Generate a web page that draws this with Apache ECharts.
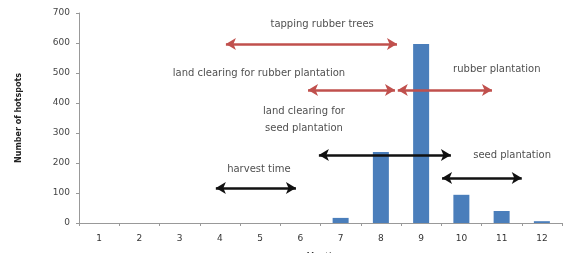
<!DOCTYPE html>
<html>
<head>
<meta charset="utf-8">
<script src="https://cdn.jsdelivr.net/npm/echarts@6/dist/echarts.min.js"></script>
<style>
  html, body { margin: 0; padding: 0; background: #fff; }
  #chart { width: 565px; height: 253px; }
</style>
</head>
<body>
<div id="chart"></div>
<script>
// months on the x axis and number of hotspots per month
var months = ["1", "2", "3", "4", "5", "6", "7", "8", "9", "10", "11", "12"];
var hotspots = [0, 0, 0, 0, 0, 0, 17, 237, 597, 94, 40, 6];

// arrows: [from month, to month, y value]
var redArrows = [[4.15, 8.4, 597], [6.19, 8.35, 443], [8.42, 10.76, 443]];
var blackArrows = [[6.46, 9.74, 227], [9.52, 11.5, 150], [3.9, 5.89, 117]];

// annotation texts: [text, month, y value]
var notes = [
    ["tapping rubber trees", 6.54, 662],
    ["land clearing for rubber plantation", 4.97, 500],
    ["rubber plantation", 10.88, 513],
    ["land clearing for\nseed plantation", 6.09, 342],
    ["seed plantation", 11.26, 225],
    ["harvest time", 4.97, 177]
];

function arrowLines(list) {
    return list.map(function (a) {
        return [{ coord: [a[0], a[2]] }, { coord: [a[1], a[2]] }];
    });
}

var font = "DejaVu Sans";
var chart = echarts.init(document.getElementById("chart"));
var option = {
    animation: false,
    grid: { left: 79, right: 3, top: 13, bottom: 30, outerBoundsMode: "none", containLabel: false },
    xAxis: [
        {
            type: "category",
            data: months,
            name: "Month",
            nameLocation: "middle",
            nameGap: 29,
            nameTextStyle: { fontSize: 9, color: "#333", fontFamily: font },
            axisLine: { lineStyle: { color: "#999" } },
            axisTick: { show: true, length: 3, lineStyle: { color: "#999" } },
            axisLabel: { fontSize: 9, color: "#333", margin: 11, fontFamily: font }
        },
        { type: "value", min: 0.5, max: 12.5, show: false }
    ],
    yAxis: {
        type: "value",
        min: 0,
        max: 700,
        interval: 100,
        name: "Number of hotspots",
        nameLocation: "middle",
        nameGap: 56,
        nameTextStyle: { fontSize: 8, color: "#222", fontWeight: "bold", fontFamily: font },
        splitLine: { show: false },
        axisLine: { show: true, lineStyle: { color: "#999" } },
        axisTick: { show: true, length: 3, lineStyle: { color: "#999" } },
        axisLabel: { fontSize: 9, color: "#444", margin: 9, fontFamily: font }
    },
    series: [
        {
            type: "bar",
            data: hotspots,
            barWidth: 16,
            itemStyle: { color: "#4a7ebb" }
        },
        {
            type: "scatter",
            xAxisIndex: 1,
            data: [],
            markLine: {
                silent: true,
                symbol: ["arrow", "arrow"],
                symbolSize: [9, 10],
                label: { show: false },
                lineStyle: { color: "#c0504d", width: 2.5, type: "solid" },
                data: arrowLines(redArrows)
            }
        },
        {
            type: "scatter",
            xAxisIndex: 1,
            data: [],
            markLine: {
                silent: true,
                symbol: ["arrow", "arrow"],
                symbolSize: [9, 10],
                label: { show: false },
                lineStyle: { color: "#111", width: 2.5, type: "solid" },
                data: arrowLines(blackArrows)
            }
        },
        {
            type: "scatter",
            xAxisIndex: 1,
            symbolSize: 0,
            data: notes.map(function (n) { return { value: [n[1], n[2]], name: n[0] }; }),
            label: {
                show: true,
                position: "inside",
                formatter: "{b}",
                fontSize: 10,
                lineHeight: 17,
                color: "#222",
                fontFamily: font
            }
        }
    ]
};
chart.setOption(option);
</script>
</body>
</html>
